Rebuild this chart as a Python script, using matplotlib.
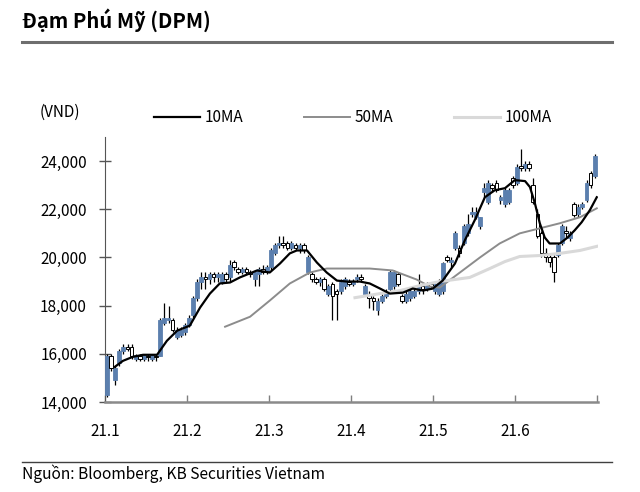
import numpy as np
import matplotlib
matplotlib.use("Agg")
import matplotlib.pyplot as plt
from matplotlib.lines import Line2D

plt.rcParams['font.family'] = ['Noto Sans CJK KR', 'DejaVu Sans']

# daily candles, Jan-Jun 2021 (VND)
opens = [14300, 15900, 14900, 15600, 16100, 16300, 16300, 15800, 15900, 15800, 15900, 15800, 15900, 15900,
         17300, 17400, 17400, 16700, 16800, 16900,
         17200, 17600, 18300, 19000, 19200, 19100, 19300, 19200, 19000, 19300, 19200, 19800, 19500, 19400,
         19500, 19400, 19100, 19300, 19500, 19400,
         19600, 20200, 20500, 20600, 20600, 20400, 20500, 20400, 20500, 19400, 19300, 19100, 19000, 19100,
         18500, 18900, 18600, 18600, 18800, 19000, 18900,
         19100, 19200, 18500, 18500, 18300, 17800, 18200, 18400, 18700, 18800, 19300, 18400, 18200, 18300,
         18400, 18600, 18800, 18700, 18900, 18600,
         18500, 18600, 20000, 19800, 20400, 20400, 20600, 21000, 21800, 21700, 21300, 22700, 22300, 23000,
         23100, 22400, 22200, 22300, 23300, 23100,
         23800, 23700, 23900, 23000, 21800, 21000, 20200, 20000, 20000, 20100, 20600, 21100, 20800, 22200,
         21800, 22100, 22400, 23500, 23400]
closes = [15900, 15400, 15400, 16100, 16300, 16200, 15900, 15950, 15800, 15950, 15850, 15950, 15850, 17400,
          17500, 17500, 17000, 17000, 17000, 17200,
          17500, 18300, 19000, 19200, 19100, 19300, 19200, 19300, 19300, 19100, 19700, 19600, 19400, 19500,
          19400, 19300, 19400, 19500, 19400, 19600,
          20300, 20500, 20600, 20500, 20400, 20600, 20400, 20500, 20300, 20000, 19100, 19000, 19100, 18700,
          18800, 18400, 18500, 19000, 19100, 18900, 19000,
          19200, 19100, 18800, 18300, 18200, 18200, 18400, 18600, 19400, 19400, 18900, 18200, 18500, 18600,
          18600, 18800, 18700, 18900, 18800, 18900,
          19000, 19750, 19900, 19900, 21000, 20200, 21300, 21400, 21900, 21900, 21700, 22900, 23100, 22900,
          22800, 22500, 22800, 22800, 23000, 23750,
          23700, 23900, 23700, 22300, 20900, 20200, 20000, 19800, 19400, 20500, 21300, 21000, 21000, 21750,
          22100, 22200, 23100, 23000, 24200]
highs = [16000, 16000, 15500, 16200, 16400, 16400, 16400, 16000, 16000, 16000, 16000, 16000, 16000, 17500,
         18100, 18000, 17500, 17100, 17100, 17300,
         17600, 18400, 19100, 19400, 19400, 19400, 19400, 19400, 19400, 19400, 19900, 19900, 19600, 19600,
         19600, 19500, 19500, 19600, 19700, 19700,
         20400, 20600, 20900, 20900, 20700, 20700, 20600, 20600, 20600, 20100, 19400, 19200, 19200, 19200,
         18900, 19000, 18700, 19100, 19200, 19100, 19100,
         19300, 19300, 18900, 18600, 18400, 18300, 18500, 18700, 19500, 19500, 19400, 18500, 18600, 18700,
         18700, 19300, 18900, 19000, 19000, 19000,
         19100, 19800, 20100, 20000, 21100, 20500, 21400, 21800, 22100, 22100, 21700, 23100, 23200, 23100,
         23200, 22600, 22900, 22900, 23400, 23900,
         24500, 24000, 24000, 23300, 22000, 21100, 20400, 20100, 20100, 20600, 21400, 21300, 21100, 22300,
         22200, 22300, 23200, 23600, 24300]
lows = [14200, 15300, 14700, 15500, 16000, 16100, 15800, 15700, 15700, 15700, 15700, 15700, 15700, 15900,
        17200, 17300, 16900, 16600, 16700, 16800,
        17100, 17500, 18200, 18700, 18700, 18900, 19000, 19000, 18900, 19000, 19000, 19500, 19300, 19300,
        19300, 19200, 18800, 18800, 19300, 19300,
        19500, 20100, 20400, 20400, 20300, 20300, 20300, 20200, 20200, 19300, 19000, 18900, 18800, 18600,
        18400, 17400, 17400, 18500, 18700, 18800, 18800,
        19000, 19000, 18400, 17900, 17800, 17600, 18100, 18300, 18600, 18700, 18800, 18100, 18100, 18200,
        18300, 18500, 18500, 18600, 18700, 18500,
        18400, 18500, 19800, 19600, 20300, 20000, 20500, 20900, 21700, 21600, 21200, 22500, 22200, 22700,
        22700, 22200, 22100, 22200, 22900, 23000,
        23600, 23600, 23600, 22200, 20800, 20000, 19800, 19600, 19000, 20000, 20500, 20800, 20700, 21700,
        21700, 22000, 22300, 22900, 23300]

# moving averages (candle index, value)
ma10_x = [1.9, 3.9, 6.3, 8.8, 12.2, 14.6, 17.1, 20.2, 22.7, 25.1, 27.5, 30, 32.4, 36.6, 39.7, 42.2, 44.6,
          46.3, 48.8, 51.2, 53.6, 56.1, 58.5, 61.7, 64.1, 66.6, 69, 72.2, 74.6, 77.1, 79.5, 81.9, 84.9,
          87.3, 89.7, 92.2, 94.6, 97.1, 99.5, 102, 103.2, 104.4, 105.6, 106.8, 108, 110.5, 112.4, 114.1,
          115.8, 117.8, 119.5]
ma10 = [15460, 15710, 15875, 15960, 15960, 16540, 16960, 17170, 17920, 18500, 18920, 18960, 19170, 19460,
        19375, 19750, 20170, 20290, 20290, 19790, 19375, 19040, 19000, 19000, 18920, 18710, 18500, 18540,
        18710, 18625, 18710, 19040, 19750, 20710, 21540, 22500, 22790, 22875, 23210, 23170, 22920, 22250,
        21420, 20830, 20580, 20580, 20830, 21125, 21460, 21960, 22500]
ma50_x = [28.8, 34.9, 39.7, 44.6, 49.5, 53.6, 59.3, 64.1, 69.7, 75.6, 78.8, 81.2, 86.1, 91, 95.8, 100.7,
          105.6, 110.5, 115.4, 119.5]
ma50 = [17125, 17540, 18210, 18920, 19375, 19540, 19540, 19540, 19460, 19080, 18790, 18750, 19375, 20000,
        20580, 21000, 21210, 21420, 21670, 22040]
ma100_x = [60.5, 66.6, 71.5, 76.3, 81.2, 88.5, 93.4, 97.1, 100.7, 105.6, 110.5, 115.4, 119.5]
ma100 = [18330, 18500, 18625, 18830, 19000, 19170, 19540, 19830, 20040, 20080, 20170, 20290, 20460]

month_labels = ['21.1', '21.2', '21.3', '21.4', '21.5', '21.6']
days_per_month = 20

blue = '#5b7fae'

fig = plt.figure(figsize=(6.4, 4.92), dpi=100)
ax = fig.add_axes([105/640, 1 - 402/492, 493/640, 265/492])

x = np.arange(len(closes))
o = np.array(opens)
c = np.array(closes)
up = c >= o

ax.vlines(x, lows, highs, color='black', lw=0.9, zorder=2)
ax.bar(x[up], (c - o)[up], bottom=o[up], width=0.95, color=blue, edgecolor=blue, lw=0.6, zorder=3)
ax.bar(x[~up], (o - c)[~up], bottom=c[~up], width=0.9, color='white', edgecolor='black', lw=0.7, zorder=3)

l10, = ax.plot(ma10_x, ma10, color='black', lw=1.6, zorder=5)
l50, = ax.plot(ma50_x, ma50, color='#8c8c8c', lw=1.4, zorder=4)
l100, = ax.plot(ma100_x, ma100, color='#d9d9d9', lw=2.2, zorder=4)

ax.set_xlim(-0.5, 119.8)
ax.set_ylim(14000, 25000)
ax.set_yticks(np.arange(14000, 24001, 2000))
ax.set_yticklabels([f'{v:,}' for v in range(14000, 24001, 2000)], fontsize=11)
ticks = [-0.5 + days_per_month * k for k in range(7)]
ax.set_xticks(ticks)
ax.set_xticklabels(month_labels + [''], fontsize=11)
ax.tick_params(axis='y', direction='inout', length=8, width=1, color='#555555', pad=9)
ax.tick_params(axis='x', direction='in', length=5, width=1, color='#7f7f7f', pad=15)

for s in ['top', 'right']:
    ax.spines[s].set_visible(False)
ax.spines['left'].set_color('#555555')
ax.spines['bottom'].set_color('#8a8a8a')
ax.spines['bottom'].set_linewidth(1.8)

fig.legend([l10, l50, l100], ['10MA', '50MA', '100MA'], ncol=3, frameon=False,
           loc='center left', bbox_to_anchor=(154/640, 1 - 118/492), borderpad=0, borderaxespad=0,
           handlelength=3.0, handletextpad=0.3, columnspacing=4.0, fontsize=11)

fig.text(40/640, 1 - 112/492, '(VND)', fontsize=11, va='center')
fig.text(22/640, 1 - 20/492, 'Đạm Phú Mỹ (DPM)', fontsize=14.5, fontweight='bold', va='center')
fig.add_artist(Line2D([22/640, 612/640], [1 - 42/492] * 2, color='#6e6e6e', lw=2.2))
fig.add_artist(Line2D([22/640, 612/640], [1 - 462/492] * 2, color='#404040', lw=1))
fig.text(22/640, 1 - 474/492, 'Nguồn: Bloomberg, KB Securities Vietnam', fontsize=11.2, va='center')

fig.savefig('out.png', dpi=100)
